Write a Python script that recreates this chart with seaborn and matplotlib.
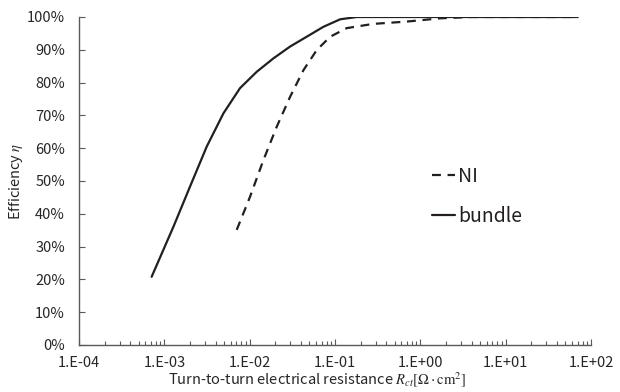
import numpy as np
import pandas as pd
import matplotlib
matplotlib.use("Agg")
import matplotlib.pyplot as plt
from matplotlib.lines import Line2D
import seaborn as sns

# ---- data ----
ni_x = [7.05e-3, 1.01e-2, 1.45e-2, 2.08e-2, 2.98e-2, 4.27e-2, 6.1e-2, 8.8e-2, 0.137, 0.28, 0.69, 1.0, 1.7, 4.0, 10.0, 70.0]
ni_y = [35.1, 45.2, 56.4, 66.6, 75.7, 83.8, 89.9, 94.0, 96.6, 97.9, 98.6, 99.0, 99.6, 100.0, 100.0, 100.0]
bundle_x = [7.1e-4, 1.28e-3, 2.0e-3, 3.14e-3, 4.92e-3, 7.7e-3, 1.21e-2, 1.9e-2, 2.98e-2, 4.67e-2, 7.3e-2, 0.115, 0.18, 0.4, 1.0, 10.0, 70.0]
bundle_y = [20.8, 36.1, 48.3, 60.5, 70.6, 78.3, 83.3, 87.4, 91.0, 94.0, 97.0, 99.3, 100.0, 100.0, 100.0, 100.0, 100.0]
series_names = ["NI", "bundle"]
x_tick_values = [1e-4, 1e-3, 1e-2, 1e-1, 1e0, 1e1, 1e2]
x_tick_labels = ["1.E-04", "1.E-03", "1.E-02", "1.E-01", "1.E+00", "1.E+01", "1.E+02"]
y_tick_values = [0, 10, 20, 30, 40, 50, 60, 70, 80, 90, 100]
y_tick_labels = ["0%", "10%", "20%", "30%", "40%", "50%", "60%", "70%", "80%", "90%", "100%"]

df = pd.concat([
    pd.DataFrame({"R": ni_x, "eta": ni_y, "series": series_names[0]}),
    pd.DataFrame({"R": bundle_x, "eta": bundle_y, "series": series_names[1]}),
], ignore_index=True)

sns.set_theme(style="white")
plt.rcParams["font.family"] = ["Noto Sans CJK JP", "DejaVu Sans"]
plt.rcParams["mathtext.fontset"] = "stix"

fig = plt.figure(figsize=(6.2, 3.92), dpi=100)
ax = fig.add_axes([79 / 620, 1 - 345 / 392, (591 - 79) / 620, (345 - 17) / 392])

line_color = "#231f20"
sns.lineplot(data=df, x="R", y="eta", hue="series", style="series",
             palette={"NI": line_color, "bundle": line_color},
             dashes={"NI": (4, 3), "bundle": ""},
             linewidth=1.6, ax=ax, legend=False, sort=False, estimator=None)
for ln in ax.get_lines():
    ln.set_solid_joinstyle("round")
    ln.set_dash_joinstyle("round")

ax.set_xscale("log")
ax.set_xlim(1e-4, 1e2)
ax.set_ylim(0, 100)
ax.set_xticks(x_tick_values)
ax.set_xticklabels(x_tick_labels)
ax.xaxis.set_minor_locator(matplotlib.ticker.LogLocator(base=10, subs=np.arange(2, 10)))
ax.xaxis.set_minor_formatter(matplotlib.ticker.NullFormatter())
ax.set_yticks(y_tick_values)
ax.set_yticklabels(y_tick_labels)

spine_color = "#595959"
for s in ["top", "right"]:
    ax.spines[s].set_visible(False)
for s in ["left", "bottom"]:
    ax.spines[s].set_color(spine_color)
    ax.spines[s].set_linewidth(1.0)

ax.tick_params(axis="both", which="major", direction="in", length=4, width=0.8,
               color=spine_color, labelsize=10.5, labelcolor="#262626", pad=6)
ax.tick_params(axis="x", which="minor", direction="in", length=3, width=0.8,
               color=spine_color, bottom=True)
ax.tick_params(axis="x", which="major", bottom=True, pad=8)
ax.tick_params(axis="y", which="major", left=True, pad=10)

ax.set_xlabel(r"Turn-to-turn electrical resistance $R_{ct}[\Omega\cdot\mathrm{cm}^2]$",
              fontsize=10.5, color="#262626")
ax.xaxis.set_label_coords((317 - 79) / 512, -0.075)
ax.set_ylabel(r"Efficiency $\eta$", fontsize=10.5, color="#262626")
ax.yaxis.set_label_coords((25 - 79) / 512, 0.5)

handles = [Line2D([], [], color=line_color, lw=1.6, dashes=(4, 3)),
           Line2D([], [], color=line_color, lw=1.6)]
leg = fig.legend(handles, series_names, loc="upper left",
                 bbox_to_anchor=(424 / 620, 1 - 158 / 392), frameon=False,
                 fontsize=14, handlelength=1.2, handletextpad=0.15,
                 labelspacing=1.0, borderaxespad=0)
for t in leg.get_texts():
    t.set_color("#231f20")

fig.savefig("out.png", dpi=100)
